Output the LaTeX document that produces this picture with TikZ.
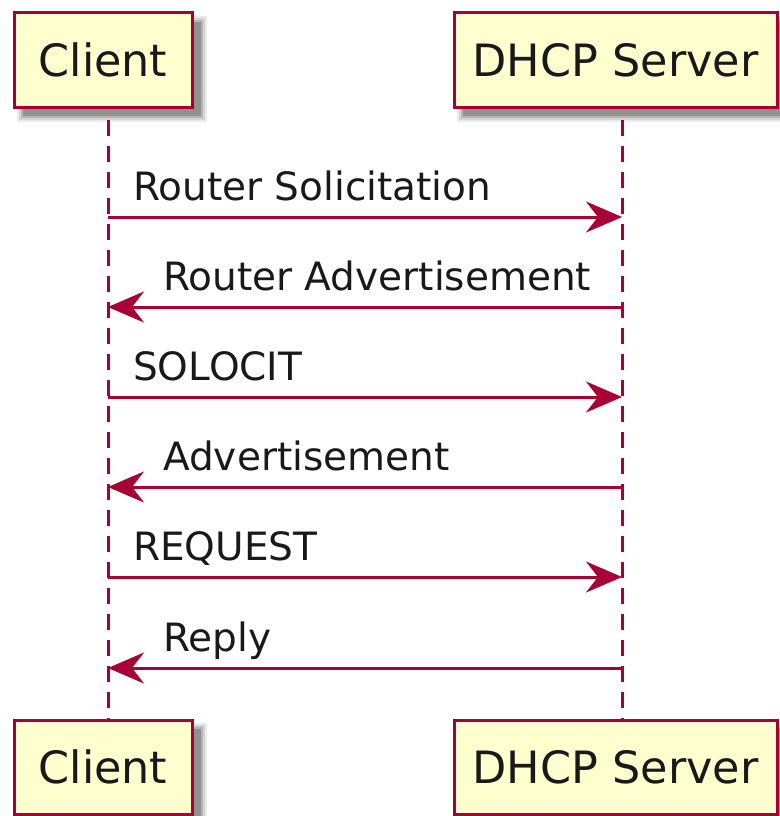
\documentclass[tikz,border=0pt]{standalone}
\usepackage{fontspec}
\setmainfont{DejaVu Sans}
\usetikzlibrary{arrows.meta}
\definecolor{umlred}{HTML}{A80036}
\definecolor{umlfill}{HTML}{FEFECE}
\tikzset{
  partbox/.style={draw=umlred, line width=3pt, fill=umlfill, inner sep=0pt,
    font=\fontsize{44.5}{52}\selectfont, text=black!90},
  lifeline/.style={draw=umlred, line width=3pt, dash pattern=on 16pt off 10pt},
  msg/.style={draw=umlred, line width=3pt,
    -{Stealth[length=36pt, width=31pt, inset=12pt, umlred]}},
  msglabel/.style={anchor=base west, inner sep=0pt, font=\fontsize{39}{46}\selectfont, text=black!90},
}
\newcommand{\umlshadow}[4]{%
  \foreach \k/\o in {6/0.08,4/0.10,2/0.14,0/0.20}{%
    \fill[black, opacity=\o] (#1+9-\k,#2+9-\k) rectangle (#3+9+\k,#4+9+\k);
  }%
}
\begin{document}
\begin{tikzpicture}[x=1pt,y=-1pt]
\useasboundingbox (0,0) rectangle (779,816);
% shadows
\umlshadow{14}{13}{192}{107}
\umlshadow{454}{13}{777}{107}
\umlshadow{14}{720}{192}{814}
\umlshadow{454}{720}{777}{814}
% lifelines
\coordinate (ctop) at (108,120);
\coordinate (cbot) at (108,720);
\coordinate (stop) at (622,120);
\coordinate (sbot) at (622,720);
\draw[lifeline] (ctop) -- (cbot);
\draw[lifeline] (stop) -- (sbot);
% participant boxes
\node[partbox, minimum width=178pt, minimum height=94pt] (clientT) at (103,60) {Client};
\node[partbox, minimum width=323pt, minimum height=94pt] (serverT) at (615.5,60) {DHCP Server};
\node[partbox, minimum width=178pt, minimum height=94pt] (clientB) at (103,767) {Client};
\node[partbox, minimum width=323pt, minimum height=94pt] (serverB) at (615.5,767) {DHCP Server};
% message anchors
\foreach \i/\y in {1/217,2/307,3/397,4/487,5/577,6/668}{
  \coordinate (c\i) at (108,\y);
  \coordinate (s\i) at (622,\y);
}
\draw[msg] (c1) -- (s1);
\draw[msg] (s2) -- (c2);
\draw[msg] (c3) -- (s3);
\draw[msg] (s4) -- (c4);
\draw[msg] (c5) -- (s5);
\draw[msg] (s6) -- (c6);
\node[msglabel] (m1) at (133,200) {Router Solicitation};
\node[msglabel] (m2) at (163,290) {Router Advertisement};
\node[msglabel] (m3) at (133,380) {SOLOCIT};
\node[msglabel] (m4) at (163,470) {Advertisement};
\node[msglabel] (m5) at (133,560) {REQUEST};
\node[msglabel] (m6) at (163,651) {Reply};
\end{tikzpicture}
\end{document}
